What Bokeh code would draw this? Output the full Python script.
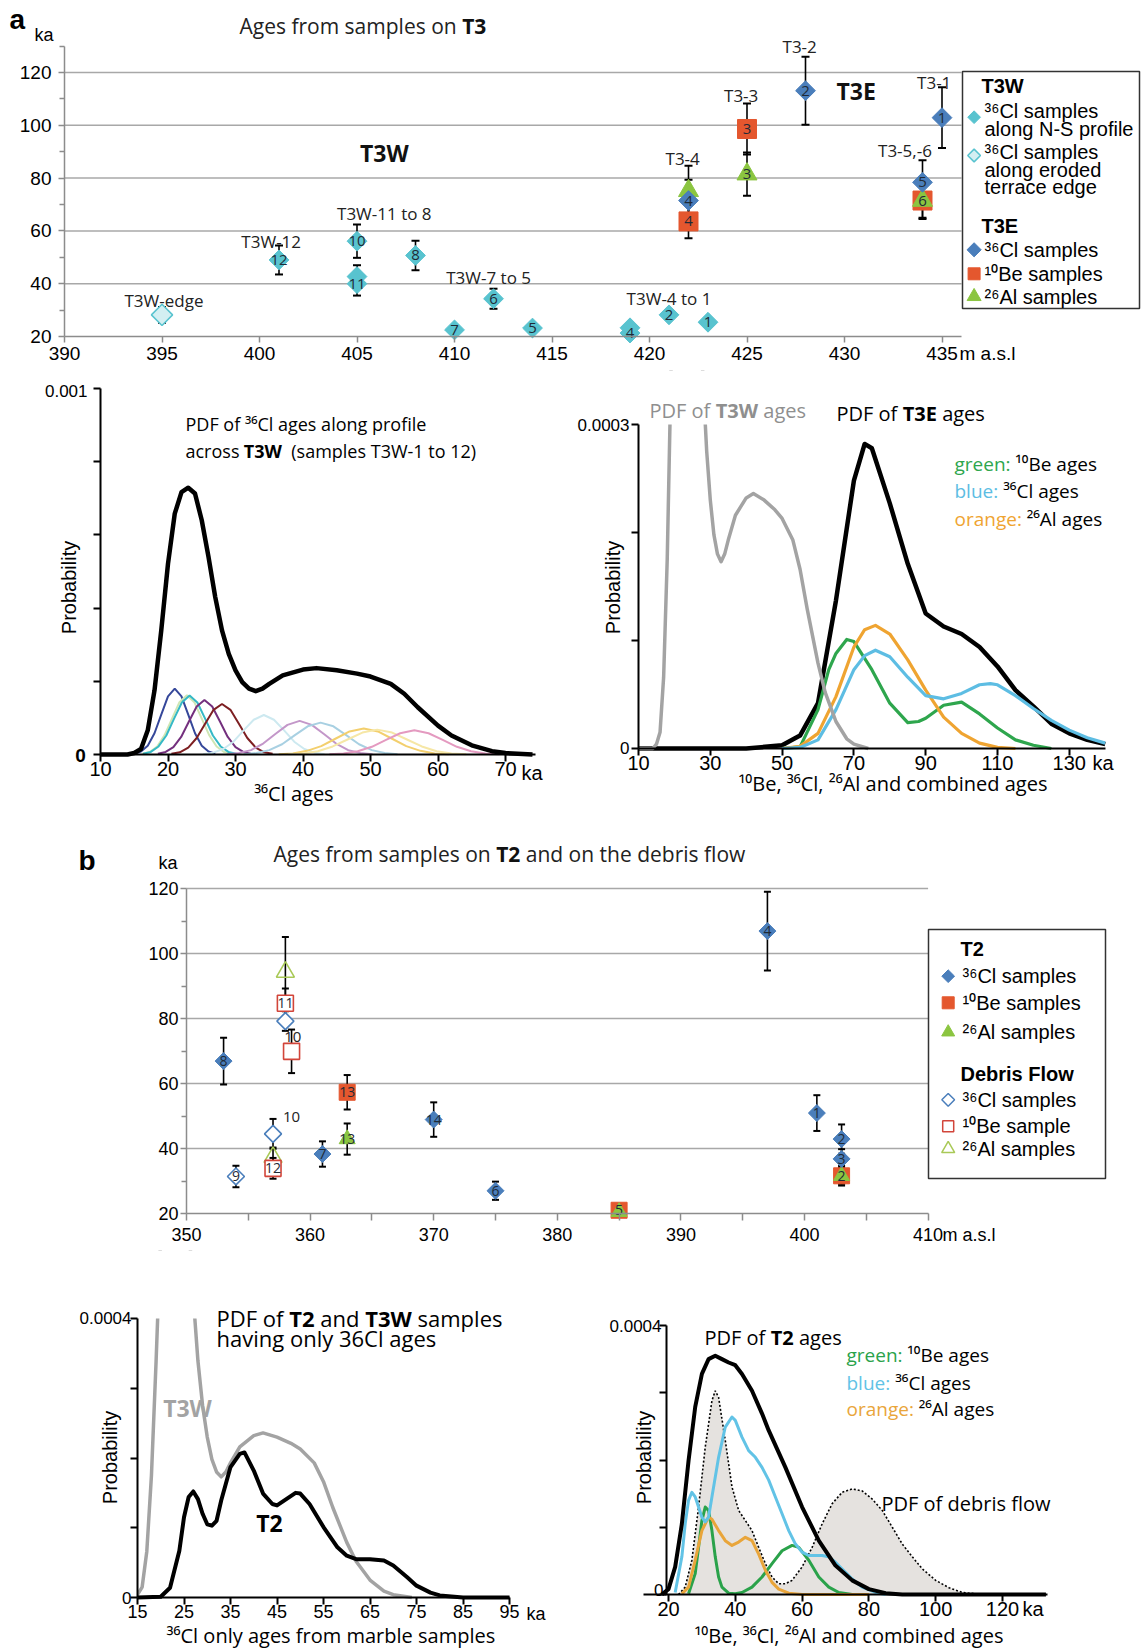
import os, glob, math
from bokeh.plotting import figure
from bokeh.models import Label, FixedTicker, Range1d, ColumnDataSource, LinearAxis, CustomJSTickFormatter
from bokeh.layouts import column, row
from bokeh.embed import file_html
from bokeh.resources import INLINE
from bokeh.core.properties import value

# ======================= DATA =======================
# ---- (a) top: ages of samples on terrace T3 (elevation m a.s.l., age ka, 1-sigma ka)
T3W_ELEV = [401, 405, 405, 405, 408, 410, 412, 414, 419, 419, 421, 423]
T3W_AGE = [49.0, 56.1, 42.7, 40.0, 50.7, 22.5, 34.3, 23.2, 21.3, 23.3, 28.2, 25.4]
T3W_ERR = [5.5, 6.3, 4.3, 4.5, 5.6, 1.5, 3.8, 1.5, 1.5, 1.5, 1.5, 1.5]
T3W_ID = ["12", "10", "", "11", "8", "7", "6", "5", "4", "", "2", "1"]

T3W_EDGE_ELEV = [395]
T3W_EDGE_AGE = [28.2]
T3W_EDGE_ERR = [3.0]

T3E_CL_ELEV = [422, 428, 435, 434]
T3E_CL_AGE = [71.5, 113.1, 102.9, 78.4]
T3E_CL_ERR = [7.9, 12.9, 11.5, 8.4]
T3E_CL_ID = ["4", "2", "1", "5"]

T3E_BE_ELEV = [422, 425, 434]
T3E_BE_AGE = [63.6, 98.6, 71.5]
T3E_BE_ERR = [6.4, 9.7, 7.0]
T3E_BE_ID = ["4", "3", "6"]

T3E_AL_ELEV = [422, 425, 434]
T3E_AL_AGE = [75.2, 81.5, 71.5]
T3E_AL_ERR = [9.5, 8.2, 6.5]
T3E_AL_ID = ["", "3", ""]

# ---- (a) bottom-left: PDF of 36Cl ages of T3W (probability in units of 1e-4)
T3W_PDF_KA = [10, 14, 15, 16, 17, 18, 19, 20, 21, 22, 23, 24, 25, 26, 27, 28, 29, 30, 31, 32, 33,
              34, 35, 37, 40, 42, 45, 48, 50, 53, 55, 57, 60, 62, 65, 68, 70, 74]
T3W_PDF_P = [0, 0, 0.04, 0.15, 0.66, 1.75, 3.39, 5.21, 6.58, 7.17, 7.29, 7.13, 6.40, 5.40, 4.30,
             3.39, 2.75, 2.30, 1.98, 1.80, 1.73, 1.80, 1.93, 2.16, 2.32, 2.36, 2.30, 2.21, 2.13,
             1.93, 1.66, 1.29, 0.79, 0.52, 0.25, 0.09, 0.04, 0]
# individual sample PDFs (T3W-1 ... T3W-12)
T3W_SAMPLE_KA = [
    [15, 16, 17, 18, 19, 20, 21, 22, 23, 24, 25, 26, 27],
    [16.2, 17.3, 18.4, 19.5, 20.6, 21.7, 22.8, 23.9, 25.0, 26.1, 27.2, 28.3, 29.4],
    [16.3, 17.45, 18.6, 19.75, 20.9, 22.05, 23.2, 24.35, 25.5, 26.65, 27.8, 28.95, 30.1],
    [18.5, 19.65, 20.8, 21.95, 23.1, 24.25, 25.4, 26.55, 27.7, 28.85, 30.0, 31.15, 32.3],
    [20.5, 21.75, 23.0, 24.25, 25.5, 26.75, 28.0, 29.25, 30.5, 31.75, 33.0, 34.25, 35.5],
    [25.2, 26.7, 28.2, 29.7, 31.2, 32.7, 34.2, 35.7, 37.2, 38.7, 40.2, 41.7, 43.2],
    [28.7, 30.5, 32.3, 34.1, 35.9, 37.7, 39.5, 41.3, 43.1, 44.9, 46.7, 48.5, 50.3],
    [31.2, 33.1, 35.0, 36.9, 38.8, 40.7, 42.6, 44.5, 46.4, 48.3, 50.2, 52.1, 54.0],
    [36.4, 38.5, 40.6, 42.7, 44.8, 46.9, 49.0, 51.1, 53.2, 55.3, 57.4, 59.5, 61.6],
    [37.8, 40.0, 42.2, 44.4, 46.6, 48.8, 51.0, 53.2, 55.4, 57.6, 59.8, 62.0, 64.2],
    [43.9, 46.0, 48.1, 50.2, 52.3, 54.4, 56.5, 58.6, 60.7, 62.8, 64.9, 67.0, 69.1],
]
T3W_SAMPLE_P = [
    [0.02, 0.08, 0.24, 0.58, 1.09, 1.59, 1.80, 1.59, 1.09, 0.58, 0.24, 0.08, 0.02],
    [0.02, 0.07, 0.22, 0.53, 0.98, 1.43, 1.62, 1.43, 0.98, 0.53, 0.22, 0.07, 0.02],
    [0.02, 0.07, 0.22, 0.52, 0.98, 1.42, 1.61, 1.42, 0.98, 0.52, 0.22, 0.07, 0.02],
    [0.02, 0.07, 0.20, 0.48, 0.90, 1.31, 1.49, 1.31, 0.90, 0.48, 0.20, 0.07, 0.02],
    [0.02, 0.06, 0.19, 0.45, 0.84, 1.22, 1.38, 1.22, 0.84, 0.45, 0.19, 0.06, 0.02],
    [0.01, 0.05, 0.15, 0.35, 0.66, 0.95, 1.08, 0.95, 0.66, 0.35, 0.15, 0.05, 0.01],
    [0.01, 0.04, 0.12, 0.30, 0.56, 0.81, 0.92, 0.81, 0.56, 0.30, 0.12, 0.04, 0.01],
    [0.01, 0.04, 0.12, 0.28, 0.53, 0.77, 0.87, 0.77, 0.53, 0.28, 0.12, 0.04, 0.01],
    [0.01, 0.03, 0.10, 0.23, 0.43, 0.63, 0.71, 0.63, 0.43, 0.23, 0.10, 0.03, 0.01],
    [0.01, 0.03, 0.09, 0.22, 0.41, 0.60, 0.68, 0.60, 0.41, 0.22, 0.09, 0.03, 0.01],
    [0.01, 0.03, 0.09, 0.21, 0.40, 0.58, 0.66, 0.58, 0.40, 0.21, 0.09, 0.03, 0.01],
]

# ---- (a) bottom-right: PDFs of T3E ages (units 1e-4)
T3E_PDF_KA = [10, 40, 50, 55, 60, 65, 70, 73, 75, 80, 85, 90, 95, 100, 105, 110, 115, 120, 125, 130, 135, 140]
T3E_PDF_P = [0, 0, 0.03, 0.12, 0.42, 1.37, 2.48, 2.82, 2.78, 2.27, 1.71, 1.25, 1.13, 1.06, 0.94, 0.76,
             0.54, 0.39, 0.23, 0.14, 0.08, 0.04]
T3E_BE_KA = [50, 55, 60, 63, 65, 68, 70, 75, 80, 85, 88, 90, 95, 100, 105, 110, 115, 120, 125]
T3E_BE_P = [0, 0.015, 0.36, 0.73, 0.88, 1.01, 0.99, 0.73, 0.42, 0.24, 0.25, 0.28, 0.40, 0.43, 0.32,
            0.19, 0.08, 0.03, 0]
T3E_AL_KA = [50, 55, 60, 65, 70, 73, 76, 80, 85, 90, 95, 100, 105, 110, 115]
T3E_AL_P = [0, 0.02, 0.14, 0.48, 0.94, 1.10, 1.14, 1.06, 0.82, 0.54, 0.29, 0.14, 0.05, 0.01, 0]
T3E_CL_KA = [50, 55, 60, 65, 70, 73, 76, 80, 85, 90, 95, 100, 105, 108, 110, 115, 120, 125, 130, 135, 140]
T3E_CL_P = [0, 0.01, 0.08, 0.36, 0.73, 0.86, 0.91, 0.85, 0.66, 0.49, 0.46, 0.51, 0.59, 0.60, 0.59,
            0.49, 0.37, 0.26, 0.17, 0.10, 0.05]

# ---- (b) top: ages of samples on T2 and on the debris flow
T2_CL_ELEV = [353, 361, 370, 375, 397, 401, 403, 403]
T2_CL_AGE = [66.9, 38.3, 48.9, 27.0, 106.9, 50.9, 42.9, 36.8]
T2_CL_ERR = [7.2, 3.9, 5.3, 2.8, 12.1, 5.5, 4.5, 3.0]
T2_CL_ID = ["8", "7", "14", "6", "4", "1", "2", "3"]

T2_BE_ELEV = [363, 385, 403]
T2_BE_AGE = [57.3, 21.0, 31.6]
T2_BE_ERR = [5.3, 1.5, 3.0]
T2_BE_ID = ["13", "5", "2"]

T2_AL_ELEV = [363, 385, 403]
T2_AL_AGE = [42.9, 20.5, 31.6]
T2_AL_ERR = [4.8, 1.5, 2.5]
T2_AL_ID = ["13", "", ""]

DF_CL_ELEV = [354, 357, 358]
DF_CL_AGE = [31.4, 44.5, 79.2]
DF_CL_ERR = [3.3, 4.6, 3.0]
DF_CL_ID = ["9", "", ""]

DF_BE_ELEV = [358, 358.5, 357]
DF_BE_AGE = [84.7, 69.9, 33.9]
DF_BE_ERR = [4.5, 6.7, 3.2]
DF_BE_ID = ["11", "", "12"]

DF_AL_ELEV = [358, 357]
DF_AL_AGE = [94.3, 37.3]
DF_AL_ERR = [10.8, 3.0]

# ---- (b) bottom-left: PDF of T2 36Cl-only ages (units 1e-4)
T2_ONLY_KA = [15, 20, 22, 24, 25, 26, 27, 28, 29, 30, 31, 32, 33, 35, 37, 38, 40, 42, 44, 45, 47, 49,
              50, 52, 55, 58, 60, 62, 65, 68, 70, 73, 75, 78, 80, 85, 95]
T2_ONLY_P = [0, 0.01, 0.14, 0.67, 1.15, 1.44, 1.52, 1.41, 1.20, 1.05, 1.03, 1.10, 1.39, 1.87, 2.06,
             2.08, 1.82, 1.49, 1.34, 1.32, 1.41, 1.50, 1.49, 1.34, 1.01, 0.72, 0.60, 0.55, 0.55,
             0.53, 0.46, 0.29, 0.17, 0.07, 0.03, 0, 0]

# ---- (b) bottom-right: PDFs of T2 ages and of the debris flow (units 1e-4)
T2_PDF_KA = [18, 20, 22, 24, 26, 28, 30, 32, 34, 36, 38, 40, 42, 45, 48, 50, 55, 60, 65, 70, 75, 80,
             85, 90, 133]
T2_PDF_P = [0, 0.08, 0.41, 1.05, 1.99, 2.79, 3.28, 3.50, 3.55, 3.50, 3.45, 3.41, 3.28, 3.03, 2.69,
            2.44, 1.89, 1.30, 0.80, 0.43, 0.21, 0.08, 0.02, 0, 0]
DEBRIS_PDF_KA = [23, 25, 27, 29, 31, 33, 34, 35, 37, 39, 41, 43, 45, 47, 49, 51, 53, 55, 57, 60, 63,
                 66, 69, 72, 75, 78, 81, 84, 87, 90, 93, 96, 100, 104, 108, 112, 115]
DEBRIS_PDF_P = [0, 0.11, 0.51, 1.30, 2.19, 2.88, 3.03, 2.93, 2.29, 1.60, 1.25, 1.10, 0.95, 0.70, 0.46,
                0.26, 0.16, 0.16, 0.21, 0.41, 0.70, 1.05, 1.35, 1.52, 1.57, 1.54, 1.42, 1.25, 1.00,
                0.75, 0.56, 0.38, 0.21, 0.10, 0.03, 0.01, 0]
T2_CL_PDF_KA = [22, 24, 25, 26, 27, 28, 29, 30, 31, 32, 33, 35, 37, 39, 40, 42, 44, 46, 48, 50, 52, 54,
                56, 58, 60, 62, 64, 66, 68, 70, 72, 75, 78, 82, 85]
T2_CL_PDF_P = [0.03, 0.56, 1.05, 1.40, 1.52, 1.45, 1.30, 1.15, 1.08, 1.15, 1.45, 2.04, 2.49, 2.64, 2.59,
               2.34, 2.14, 2.04, 1.89, 1.70, 1.45, 1.20, 0.95, 0.75, 0.63, 0.58, 0.58, 0.58, 0.56,
               0.48, 0.38, 0.23, 0.11, 0.03, 0]
T2_BE_PDF_KA = [26, 28, 29, 30, 31, 32, 33, 34, 35, 36, 38, 40, 42, 45, 48, 51, 54, 57, 59, 62, 65, 68, 71, 75]
T2_BE_PDF_P = [0.01, 0.31, 0.70, 1.10, 1.30, 1.25, 0.95, 0.56, 0.26, 0.11, 0.02, 0.01, 0.03, 0.11, 0.26,
               0.46, 0.65, 0.73, 0.70, 0.51, 0.26, 0.11, 0.03, 0]
T2_AL_PDF_KA = [24, 26, 28, 30, 32, 33, 35, 37, 39, 41, 43, 45, 47, 49, 51, 53, 56, 60, 80]
T2_AL_PDF_P = [0.01, 0.11, 0.51, 0.95, 1.15, 1.12, 0.95, 0.80, 0.73, 0.78, 0.85, 0.80, 0.60, 0.36, 0.18,
               0.08, 0.02, 0, 0]

# axis ticks
A_Y_TICKS = [20, 40, 60, 80, 100, 120]
A_Y_MINOR = [30, 50, 70, 90, 110, 130]
A_X_TICKS = [390, 395, 400, 405, 410, 415, 420, 425, 430, 435]
B_Y_TICKS = [20, 40, 60, 80, 100, 120]
B_Y_MINOR = [30, 50, 70, 90, 110]
B_X_TICKS = [350, 360, 370, 380, 390, 400, 410]
B_X_MINOR = [355, 365, 375, 385, 395, 405]

# ======================= STYLE =======================
SANS = "Liberation Sans"
HUM = "Open Sans"
CYAN = "#58c3cf"
CYAN_PALE = "#d3eff2"
STEEL = "#4a7ebb"
RED = "#e4572e"
LGREEN = "#8bc540"
NUMCOL = "#1f2a36"
GRIDC = "#a8a8a8"
AXC = "#8c8c8c"
PDF_GREEN = "#2ea64d"
PDF_ORANGE = "#efa431"
PDF_BLUE = "#5dbde3"
PDF_GRAY = "#a3a3a3"
SAMPLE_COLORS = ["#35479a", "#cfe6b4", "#35b9c6", "#74307e", "#7d1f22", "#cde9f0",
                 "#c397c9", "#a8d0e2", "#f3cf6d", "#f6e7a6", "#e49ac0"]

# ---------------- font measuring for mixed-style runs ----------------
try:
    from PIL import ImageFont
except Exception:
    ImageFont = None


def _find(patterns):
    roots = ["/usr/share/fonts", "/usr/local/share/fonts",
             os.path.expanduser("~/.fonts"), os.path.expanduser("~/.local/share/fonts")]
    for pat in patterns:
        for r in roots:
            try:
                hits = sorted(glob.glob(os.path.join(r, "**", pat), recursive=True))
            except Exception:
                hits = []
            if hits:
                return hits[0]
    return None


FONT_PATHS = {
    (HUM, False): _find(["OpenSans-Regular.ttf", "OpenSans*.ttf"]),
    (HUM, True): _find(["OpenSans-Bold.ttf"]),
    (SANS, False): _find(["LiberationSans-Regular.ttf"]),
    (SANS, True): _find(["LiberationSans-Bold.ttf"]),
}


def measure(text, font, size, bold=False):
    path = FONT_PATHS.get((font, bold))
    factor = 1.0
    if path is None and bold:
        path = FONT_PATHS.get((font, False))
        factor = 1.07
    if ImageFont is not None and path:
        try:
            return ImageFont.truetype(path, size).getlength(text) * factor
        except Exception:
            pass
    return len(text) * size * (0.55 if font == HUM else 0.52) * (1.07 if bold else 1.0)


class Geo:
    """Canvas on the page (ox, oy, w, h); two reference pixels per axis tie page pixels to data.
    The frame covers the whole canvas; axes are drawn at fixed data locations."""
    def __init__(s, ox, oy, w, h, xpx, xval, ypx, yval):
        s.ox, s.oy, s.w, s.h = ox, oy, w, h
        s.kx = (xval[1] - xval[0]) / (xpx[1] - xpx[0])
        s.ky = (yval[1] - yval[0]) / (ypx[0] - ypx[1])
        s.xp0, s.xv0 = xpx[0], xval[0]
        s.yp0, s.yv0 = ypx[0], yval[0]

    def X(s, px):
        return s.xv0 + (px - s.xp0) * s.kx

    def Y(s, py):
        return s.yv0 + (s.yp0 - py) * s.ky

    def fig(s):
        p = figure(width=s.w, height=s.h,
                   x_range=Range1d(s.X(s.ox), s.X(s.ox + s.w)),
                   y_range=Range1d(s.Y(s.oy + s.h), s.Y(s.oy)),
                   x_axis_type=None, y_axis_type=None,
                   output_backend="svg", toolbar_location=None, title=None,
                   min_border=0, min_border_left=0, min_border_right=0,
                   min_border_top=0, min_border_bottom=0)
        p.outline_line_color = None
        p.background_fill_color = "white"
        p.border_fill_color = "white"
        return p


def label(p, g, px, py, text, size, font=SANS, bold=False, color="black", align="left", angle=0.0):
    p.add_layout(Label(x=g.X(px), y=g.Y(py), text=text, text_font=font,
                       text_font_size=f"{size}px", text_font_style="bold" if bold else "normal",
                       text_color=color, text_align=align, text_baseline="middle", angle=angle))


def runs(p, g, px, py, parts, size, font=HUM, align="left"):
    widths = [measure(t, font, size, b) for t, b, c in parts]
    total = sum(widths)
    x = px - total / 2 if align == "center" else (px - total if align == "right" else px)
    for (t, b, c), w in zip(parts, widths):
        label(p, g, x, py, t, size, font=font, bold=b, color=c, align="left")
        x += w


def axis(p, side, loc, bounds, ticks, color="black", width=2, size=20, out=7, minor=None,
         minor_out=5, standoff=0, hide=False):
    ax = LinearAxis(fixed_location=loc, bounds=bounds,
                    ticker=FixedTicker(ticks=ticks, minor_ticks=minor or []))
    ax.axis_line_color = color
    ax.axis_line_width = width
    ax.major_tick_line_color = color
    ax.major_tick_line_width = width
    ax.major_tick_out = out
    ax.major_tick_in = 0
    ax.minor_tick_line_color = color
    ax.minor_tick_line_width = width
    ax.minor_tick_out = minor_out
    ax.minor_tick_in = 0
    ax.major_label_text_font = SANS
    ax.major_label_text_font_size = f"{size}px"
    ax.major_label_text_color = "black"
    ax.major_label_standoff = standoff
    if hide:
        ax.formatter = CustomJSTickFormatter(code="return ''")
    p.add_layout(ax, side)
    return ax


def samples(xs, ys, errs, ids=None):
    return ColumnDataSource(dict(x=xs, y=ys, lo=[a - e for a, e in zip(ys, errs)],
                                 hi=[a + e for a, e in zip(ys, errs)],
                                 id=ids if ids is not None else [""] * len(xs)))


def bars(p, src, cap=8):
    p.segment(x0="x", y0="lo", x1="x", y1="hi", source=src, line_color="black", line_width=1.6)
    p.scatter(x="x", y="lo", marker="dash", size=cap, line_color="black", line_width=2, source=src)
    p.scatter(x="x", y="hi", marker="dash", size=cap, line_color="black", line_width=2, source=src)


def ids(p, src, size):
    p.text(x="x", y="y", text="id", source=src, text_font=value(HUM), text_font_size=f"{size}px",
           text_align="center", text_baseline="middle", text_color=NUMCOL)


def mask(p, g, x0, x1, y0, y1):
    p.quad(left=[x0], right=[x1], bottom=[y0], top=[y1], fill_color="white", line_color=None)


DIAM = math.pi / 4
W_FULL = 1141
W_LEFT = 570
W_RIGHT = W_FULL - W_LEFT

# ======================= (a) top scatter =======================
g1 = Geo(0, 0, W_FULL, 370, (64, 941.5), (390, 435), (336, 72), (20, 120))
p1 = g1.fig()
p1.segment(x0=[390] * 5, y0=A_Y_TICKS[1:], x1=[436] * 5, y1=A_Y_TICKS[1:], line_color=GRIDC, line_width=1.5)
axis(p1, "left", 390, (20, 130), A_Y_TICKS, color=AXC, width=1.5, size=19, out=6, minor=A_Y_MINOR, standoff=7)
axis(p1, "below", 20, (390, 436), A_X_TICKS, color=AXC, width=1.5, size=19, out=6, standoff=4)

s_w = samples(T3W_ELEV, T3W_AGE, T3W_ERR, T3W_ID)
s_edge = samples(T3W_EDGE_ELEV, T3W_EDGE_AGE, T3W_EDGE_ERR)
s_cl = samples(T3E_CL_ELEV, T3E_CL_AGE, T3E_CL_ERR, T3E_CL_ID)
s_be = samples(T3E_BE_ELEV, T3E_BE_AGE, T3E_BE_ERR, T3E_BE_ID)
s_al = samples(T3E_AL_ELEV, T3E_AL_AGE, T3E_AL_ERR, T3E_AL_ID)
for s in (s_w, s_edge, s_cl, s_be, s_al):
    bars(p1, s)
p1.scatter(x="x", y="y", source=s_edge, marker="square", angle=DIAM, size=15,
           fill_color=CYAN_PALE, line_color=CYAN, line_width=1.5)
p1.scatter(x="x", y="y", source=s_w, marker="square", angle=DIAM, size=14,
           fill_color=CYAN, line_color=CYAN, line_width=1)
p1.scatter(x="x", y="y", source=s_be, marker="square", size=19, fill_color=RED, line_color=RED)
p1.scatter(x="x", y="y", source=s_al, marker="triangle", size=20, fill_color=LGREEN, line_color=LGREEN)
p1.scatter(x="x", y="y", source=s_cl, marker="square", angle=DIAM, size=14, fill_color=STEEL, line_color=STEEL)
for s in (s_w, s_cl, s_be, s_al):
    ids(p1, s, 15)

# group names (annotations anchored in data space)
for txt, x, y in [("T3W-edge", 395.1, 33.6), ("T3W-12", 400.6, 56.0), ("T3W-11 to 8", 406.4, 66.5),
                  ("T3W-7 to 5", 411.75, 42.5), ("T3W-4 to 1", 421.0, 34.5), ("T3-4", 421.7, 87.3),
                  ("T3-3", 424.7, 111.2), ("T3-2", 427.7, 130.0), ("T3-1", 434.6, 116.2),
                  ("T3-5,-6", 433.1, 90.4)]:
    p1.add_layout(Label(x=x, y=y, text=txt, text_font=HUM, text_font_size="17px",
                        text_align="center", text_baseline="middle", text_color="#222222"))
for txt, x, y in [("T3W", 406.4, 89.4), ("T3E", 430.6, 113.0)]:
    p1.add_layout(Label(x=x, y=y, text=txt, text_font=HUM, text_font_size="23px", text_font_style="bold",
                        text_align="center", text_baseline="middle", text_color="#111111"))

label(p1, g1, 9, 19, "a", 28, bold=True)
label(p1, g1, 34, 34, "ka", 18)
runs(p1, g1, 239, 25, [("Ages from samples on ", False, "#222222"), ("T3", True, "#111111")], 21)
label(p1, g1, 959, 353, "m a.s.l", 19)

# legend (a)
p1.quad(left=[g1.X(962)], right=[g1.X(1139)], bottom=[g1.Y(308)], top=[g1.Y(71)],
        fill_color="white", line_color="#333333", line_width=1.5)
lx = g1.X(973.6)
p1.scatter(x=[lx], y=[g1.Y(116.7)], marker="square", angle=DIAM, size=9, fill_color=CYAN, line_color=CYAN)
p1.scatter(x=[lx], y=[g1.Y(155)], marker="square", angle=DIAM, size=9, fill_color=CYAN_PALE,
           line_color=CYAN, line_width=1.5)
p1.scatter(x=[lx], y=[g1.Y(249.3)], marker="square", angle=DIAM, size=10, fill_color=STEEL, line_color=STEEL)
p1.scatter(x=[lx], y=[g1.Y(273.3)], marker="square", size=12, fill_color=RED, line_color=RED)
p1.scatter(x=[lx], y=[g1.Y(296)], marker="triangle", size=14, fill_color=LGREEN, line_color=LGREEN)
label(p1, g1, 981, 85, "T3W", 20, bold=True)
label(p1, g1, 981, 225, "T3E", 20, bold=True)
for txt, y in [("³⁶Cl samples", 110), ("along N-S profile", 128.3), ("³⁶Cl samples", 151.7),
               ("along eroded", 169), ("terrace edge", 186.7), ("³⁶Cl samples", 249.3),
               ("¹⁰Be samples", 273.3), ("²⁶Al samples", 296)]:
    label(p1, g1, 984, y, txt, 20)

# ======================= (a) bottom-left PDF =======================
g2 = Geo(0, 370, W_LEFT, 440, (100, 505), (10, 70), (754, 388), (0, 10))
p2 = g2.fig()
for xs, ys, c in zip(T3W_SAMPLE_KA, T3W_SAMPLE_P, SAMPLE_COLORS):
    p2.line(xs, ys, line_color=c, line_width=2)
p2.line(T3W_PDF_KA, T3W_PDF_P, line_color="black", line_width=4.5, line_join="round")
axis(p2, "below", 0, (10, 74.44), [10, 20, 30, 40, 50, 60, 70], size=20, out=7, standoff=0)
axis(p2, "left", 10, (0, 10), [0, 2, 4, 6, 8, 10], out=7, hide=True)
label(p2, g2, 87, 390, "0.001", 17, align="right")
label(p2, g2, 80, 755, "0", 19, bold=True, align="center")
label(p2, g2, 68, 587, "Probability", 20, align="center", angle=math.pi / 2)
label(p2, g2, 521, 772, "ka", 20)
label(p2, g2, 296, 793, "³⁶Cl  ages", 20, font=HUM, align="center")
label(p2, g2, 185, 423, "PDF of ³⁶Cl ages along profile", 18, font=HUM)
runs(p2, g2, 185, 450, [("across ", False, "black"), ("T3W  ", True, "black"),
                        ("(samples T3W-1 to 12)", False, "black")], 18)

# ======================= (a) bottom-right PDF =======================
g3 = Geo(W_LEFT, 370, W_RIGHT, 440, (638, 1068.8), (10, 130), (748, 424), (0, 3))
p3 = g3.fig()
p3.line(T3E_PDF_KA, T3E_PDF_P, line_color="black", line_width=4.5, line_join="round")
p3.line(T3E_BE_KA, T3E_BE_P, line_color=PDF_GREEN, line_width=3.2, line_join="round")
p3.line(T3E_AL_KA, T3E_AL_P, line_color=PDF_ORANGE, line_width=3.2, line_join="round")
p3.line(T3E_CL_KA, T3E_CL_P, line_color=PDF_BLUE, line_width=3.2, line_join="round")
p3.line(T3W_PDF_KA, T3W_PDF_P, line_color=PDF_GRAY, line_width=3.5, line_join="round")
mask(p3, g3, 9, 141, 3, g3.Y(370))
axis(p3, "below", 0, (10, 140), [10, 30, 50, 70, 90, 110, 130], size=20, out=7, standoff=0)
axis(p3, "left", 10, (0, 3), [0, 1, 2, 3], out=7, hide=True)
runs(p3, g3, 649, 410, [("PDF of ", False, "#8f8f8f"), ("T3W ", True, "#8f8f8f"), ("ages", False, "#8f8f8f")], 20)
runs(p3, g3, 836, 413, [("PDF of ", False, "black"), ("T3E ", True, "black"), ("ages", False, "black")], 20)
label(p3, g3, 629, 424, "0.0003", 17, align="right")
label(p3, g3, 629, 747, "0", 17, align="right")
label(p3, g3, 612, 587, "Probability", 20, align="center", angle=math.pi / 2)
label(p3, g3, 1092, 762, "ka", 20)
label(p3, g3, 895, 783, "¹⁰Be, ³⁶Cl, ²⁶Al and combined  ages", 20, font=HUM, align="center")
runs(p3, g3, 954, 463, [("green: ", False, PDF_GREEN), ("¹⁰Be ages", False, "black")], 19)
runs(p3, g3, 954, 490, [("blue: ", False, PDF_BLUE), ("³⁶Cl ages", False, "black")], 19)
runs(p3, g3, 954, 518, [("orange: ", False, PDF_ORANGE), ("²⁶Al ages", False, "black")], 19)

# ======================= (b) top scatter =======================
g4 = Geo(0, 810, W_FULL, 440, (186, 927.6), (350, 410), (1213, 888), (20, 120))
p4 = g4.fig()
p4.segment(x0=[350] * 5, y0=B_Y_TICKS[1:], x1=[410] * 5, y1=B_Y_TICKS[1:], line_color=GRIDC, line_width=1.5)
axis(p4, "left", 350, (20, 120), B_Y_TICKS, color=AXC, width=1.5, size=18, out=6, minor=B_Y_MINOR, standoff=2)
axis(p4, "below", 20, (350, 410), B_X_TICKS, color=AXC, width=1.5, size=18, out=7, minor=B_X_MINOR,
     minor_out=7, standoff=7)

b_cl = samples(T2_CL_ELEV, T2_CL_AGE, T2_CL_ERR, T2_CL_ID)
b_be = samples(T2_BE_ELEV, T2_BE_AGE, T2_BE_ERR, T2_BE_ID)
b_al = samples(T2_AL_ELEV, T2_AL_AGE, T2_AL_ERR, T2_AL_ID)
d_cl = samples(DF_CL_ELEV, DF_CL_AGE, DF_CL_ERR, DF_CL_ID)
d_be = samples(DF_BE_ELEV, DF_BE_AGE, DF_BE_ERR, DF_BE_ID)
d_al = samples(DF_AL_ELEV, DF_AL_AGE, DF_AL_ERR)
for s in (b_cl, b_be, b_al, d_cl, d_be, d_al):
    bars(p4, s, cap=7)
p4.scatter(x="x", y="y", source=b_be, marker="square", size=16, fill_color=RED, line_color=RED)
p4.scatter(x="x", y="y", source=b_al, marker="triangle", size=16, fill_color=LGREEN, line_color=LGREEN)
p4.scatter(x="x", y="y", source=b_cl, marker="square", angle=DIAM, size=12, fill_color=STEEL, line_color=STEEL)
p4.scatter(x="x", y="y", source=d_al, marker="triangle", size=18, fill_color="white",
           fill_alpha=0.0, line_color="#a9c957", line_width=1.6)
p4.scatter(x="x", y="y", source=d_be, marker="square", size=16, fill_color="white",
           line_color="#d2453a", line_width=1.6)
p4.scatter(x="x", y="y", source=d_cl, marker="square", angle=DIAM, size=12, fill_color="white",
           line_color=STEEL, line_width=1.6)
for s in (b_cl, b_be, b_al, d_cl, d_be):
    ids(p4, s, 14)
for txt, x, y in [("10", 358.5, 49.8), ("10", 358.6, 74.3)]:
    p4.add_layout(Label(x=x, y=y, text=txt, text_font=HUM, text_font_size="15px",
                        text_align="center", text_baseline="middle", text_color="#222222"))

label(p4, g4, 78, 860, "b", 28, bold=True)
label(p4, g4, 158, 862, "ka", 18)
runs(p4, g4, 273, 853, [("Ages from samples on ", False, "#222222"), ("T2 ", True, "#111111"),
                        ("and on the debris flow", False, "#222222")], 21)
label(p4, g4, 942, 1234, "m a.s.l", 18)

# legend (b)
p4.quad(left=[g4.X(928)], right=[g4.X(1105)], bottom=[g4.Y(1178)], top=[g4.Y(929)],
        fill_color="white", line_color="#333333", line_width=1.5)
bx = g4.X(947.7)
p4.scatter(x=[bx], y=[g4.Y(975.7)], marker="square", angle=DIAM, size=9, fill_color=STEEL, line_color=STEEL)
p4.scatter(x=[bx], y=[g4.Y(1002.3)], marker="square", size=12, fill_color=RED, line_color=RED)
p4.scatter(x=[bx], y=[g4.Y(1031.7)], marker="triangle", size=13, fill_color=LGREEN, line_color=LGREEN)
p4.scatter(x=[bx], y=[g4.Y(1099.3)], marker="square", angle=DIAM, size=9, fill_color="white",
           line_color=STEEL, line_width=1.5)
p4.scatter(x=[bx], y=[g4.Y(1125.7)], marker="square", size=11, fill_color="white",
           line_color="#d2453a", line_width=1.5)
p4.scatter(x=[bx], y=[g4.Y(1148.3)], marker="triangle", size=13, fill_color="white",
           line_color="#a9c957", line_width=1.5)
label(p4, g4, 960, 948, "T2", 20, bold=True)
label(p4, g4, 960, 1073.3, "Debris Flow", 20, bold=True)
for txt, y in [("³⁶Cl samples", 975.7), ("¹⁰Be samples", 1002.3), ("²⁶Al samples", 1031.7),
               ("³⁶Cl samples", 1099.3), ("¹⁰Be sample", 1125.7), ("²⁶Al samples", 1148.3)]:
    label(p4, g4, 962, y, txt, 20)

# ======================= (b) bottom-left PDF =======================
g5 = Geo(0, 1250, W_LEFT, 398, (137, 509), (15, 95), (1597, 1318), (0, 4))
p5 = g5.fig()
p5.line(T3W_PDF_KA, T3W_PDF_P, line_color=PDF_GRAY, line_width=3.5, line_join="round")
p5.line(T2_ONLY_KA, T2_ONLY_P, line_color="black", line_width=4, line_join="round")
mask(p5, g5, 14, 96, 4, g5.Y(1250))
mask(p5, g5, g5.X(0), 15, -1, 5)
axis(p5, "below", 0, (15, 95), [15, 25, 35, 45, 55, 65, 75, 85, 95], size=18, out=7, standoff=0)
axis(p5, "left", 15, (0, 4), [0, 1, 2, 3, 4], out=7, hide=True)
label(p5, g5, 131, 1317, "0.0004", 17, align="right")
label(p5, g5, 131, 1597, "0", 17, align="right")
runs(p5, g5, 216, 1317, [("PDF of ", False, "black"), ("T2 ", True, "black"), ("and ", False, "black"),
                         ("T3W ", True, "black"), ("samples", False, "black")], 22)
label(p5, g5, 216, 1337, "having only 36Cl ages", 22, font=HUM)
label(p5, g5, 187, 1407, "T3W", 23, font=HUM, bold=True, color="#a3a3a3", align="center")
label(p5, g5, 269, 1522, "T2", 23, font=HUM, bold=True, align="center")
label(p5, g5, 109, 1457, "Probability", 20, align="center", angle=math.pi / 2)
label(p5, g5, 526, 1613, "ka", 18)
label(p5, g5, 333, 1635, "³⁶Cl  only ages from marble samples", 20, font=HUM, align="center")

# ======================= (b) bottom-right PDF =======================
g6 = Geo(W_LEFT, 1250, W_RIGHT, 398, (668, 1002), (20, 120), (1594, 1325), (0, 4))
p6 = g6.fig()
p6.varea(x=DEBRIS_PDF_KA, y1=[0] * len(DEBRIS_PDF_KA), y2=DEBRIS_PDF_P, fill_color="#e5e2df")
p6.line(DEBRIS_PDF_KA, DEBRIS_PDF_P, line_color="black", line_width=1.6, line_dash="2 2")
p6.line(T2_BE_PDF_KA, T2_BE_PDF_P, line_color="#2aa24a", line_width=3, line_join="round")
p6.line(T2_AL_PDF_KA, T2_AL_PDF_P, line_color="#e9a53a", line_width=3, line_join="round")
p6.line(T2_CL_PDF_KA, T2_CL_PDF_P, line_color="#62c3e6", line_width=3, line_join="round")
p6.line(T2_PDF_KA, T2_PDF_P, line_color="black", line_width=4, line_join="round")
axis(p6, "below", 0, (12.5, 133.5), [20, 40, 60, 80, 100, 120], size=20, out=7, standoff=0)
axis(p6, "left", 19.5, (0, 4), [0, 1, 2, 3, 4], out=7, hide=True)
label(p6, g6, 661, 1325, "0.0004", 17, align="right")
label(p6, g6, 663, 1589, "0", 17, align="right")
runs(p6, g6, 704, 1337, [("PDF of ", False, "black"), ("T2 ", True, "black"), ("ages", False, "black")], 20)
runs(p6, g6, 846, 1354, [("green: ", False, "#2aa24a"), ("¹⁰Be ages", False, "black")], 19)
runs(p6, g6, 846, 1382, [("blue: ", False, "#62c3e6"), ("³⁶Cl ages", False, "black")], 19)
runs(p6, g6, 846, 1408, [("orange: ", False, "#e9a53a"), ("²⁶Al ages", False, "black")], 19)
label(p6, g6, 881, 1503, "PDF of debris flow", 20, font=HUM)
label(p6, g6, 643, 1457, "Probability", 20, align="center", angle=math.pi / 2)
label(p6, g6, 1022, 1608, "ka", 20)
label(p6, g6, 851, 1635, "¹⁰Be, ³⁶Cl, ²⁶Al and combined  ages", 20, font=HUM, align="center")

layout = column(row(p1), row(p2, p3), row(p4), row(p5, p6))
open("out.html", "w").write(file_html(layout, INLINE))
